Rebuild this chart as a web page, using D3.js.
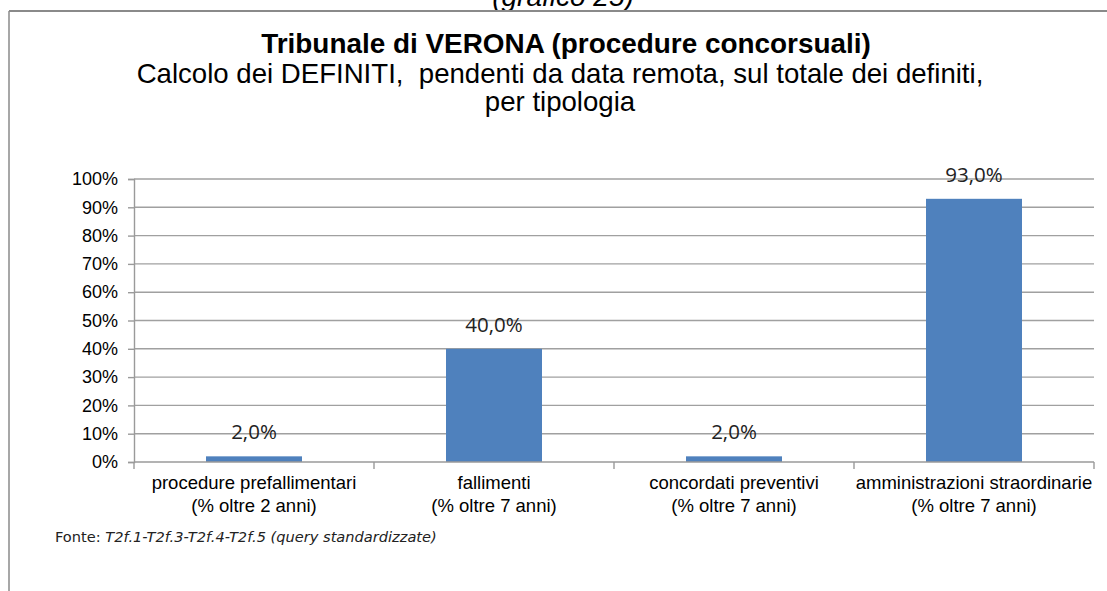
<!DOCTYPE html>
<html>
<head>
<meta charset="utf-8">
<script src="https://cdn.jsdelivr.net/npm/d3@7"></script>
<style>
  html, body { margin: 0; padding: 0; background: #fff; }
  svg { display: block; }
  .pre { white-space: pre; }
</style>
</head>
<body>
<svg id="chart"></svg>
<script>
// data
const categories = [
  "procedure prefallimentari|(% oltre 2 anni)",
  "fallimenti|(% oltre 7 anni)",
  "concordati preventivi|(% oltre 7 anni)",
  "amministrazioni straordinarie|(% oltre 7 anni)"
];
const values = [0.02, 0.40, 0.02, 0.93];
const yTicks = [0, 0.1, 0.2, 0.3, 0.4, 0.5, 0.6, 0.7, 0.8, 0.9, 1.0];

const topNote = "(grafico 25)";
const titleText = "Tribunale di VERONA (procedure concorsuali)";
const subtitleLines = [
  "Calcolo dei DEFINITI,  pendenti da data remota, sul totale dei definiti,",
  "per tipologia"
];
const sourceLabel = "Fonte: ";
const sourceText = "T2f.1-T2f.3-T2f.4-T2f.5 (query standardizzate)";

const width = 1107, height = 591;
const svg = d3.select("#chart")
    .attr("width", width)
    .attr("height", height);

const arial = "'Liberation Sans', Arial, sans-serif";
const itFmt = d3.formatLocale({decimal: ",", thousands: ".", grouping: [3], currency: ["", "€"]});
const pct0 = itFmt.format(".0%"),
    pct1 = itFmt.format(".1%");

// clipped note above the frame
svg.append("clipPath").attr("id", "topclip")
  .append("rect").attr("x", 0).attr("y", 0).attr("width", width).attr("height", 10);

svg.append("text")
    .attr("clip-path", "url(#topclip)")
    .attr("x", 563).attr("y", 6)
    .attr("text-anchor", "middle")
    .style("font-family", arial)
    .style("font-style", "italic")
    .style("font-size", "28px")
    .text(topNote);

// frame
svg.append("line")
    .attr("x1", 9).attr("x2", width).attr("y1", 11).attr("y2", 11)
    .attr("stroke", "#8a8a8a").attr("stroke-width", 2);
svg.append("line")
    .attr("x1", 9).attr("x2", 9).attr("y1", 11).attr("y2", height)
    .attr("stroke", "#8a8a8a").attr("stroke-width", 1.5);

// titles
svg.append("text")
    .attr("x", 566).attr("y", 53)
    .attr("text-anchor", "middle")
    .style("font-family", arial)
    .style("font-weight", "bold")
    .style("font-size", "27.9px")
    .text(titleText);

svg.selectAll("text.sub")
  .data(subtitleLines)
  .enter().append("text")
    .attr("class", "sub pre")
    .attr("x", 560)
    .attr("y", (d, i) => 83 + i * 28)
    .attr("text-anchor", "middle")
    .style("font-family", arial)
    .style("font-size", "27.6px")
    .text(d => d);

// scales
const x = d3.scaleBand()
    .domain(categories)
    .range([134, 1094])
    .paddingInner(0.6)
    .paddingOuter(0.3);

const y = d3.scaleLinear()
    .domain([0, 1])
    .range([462, 179]);

// gridlines
svg.append("g")
    .selectAll("line")
    .data(yTicks.slice(1))
    .enter().append("line")
    .attr("x1", 134).attr("x2", 1094)
    .attr("y1", d => y(d)).attr("y2", d => y(d))
    .attr("stroke", "#a0a0a0")
    .attr("stroke-width", 1.4);

// y axis
const yAxis = svg.append("g")
    .attr("transform", "translate(134,0)")
    .call(d3.axisLeft(y).tickValues(yTicks).tickFormat(pct0).tickSize(6).tickPadding(10));
yAxis.selectAll("path, line").attr("stroke", "#9a9a9a").attr("stroke-width", 1.4);
yAxis.selectAll("text")
    .style("font-family", arial)
    .style("font-size", "18px")
    .attr("fill", "#000");

// bars
svg.append("g")
    .selectAll("rect")
    .data(values)
    .enter().append("rect")
    .attr("x", (d, i) => x(categories[i]))
    .attr("width", x.bandwidth())
    .attr("y", d => y(d))
    .attr("height", d => y(0) - y(d))
    .attr("fill", "#4f81bd");

// x axis: line plus ticks on category boundaries
const xAxis = svg.append("g")
    .attr("transform", "translate(0," + y(0) + ")");
xAxis.append("line")
    .attr("x1", 134).attr("x2", 1094)
    .attr("stroke", "#9a9a9a").attr("stroke-width", 1.4);
const bounds = categories.map(c => x(c) - x.step() * x.paddingInner() / 2)
    .concat([x(categories[categories.length - 1]) + x.bandwidth() + x.step() * x.paddingInner() / 2]);
xAxis.selectAll("line.tk")
    .data(bounds)
    .enter().append("line")
    .attr("class", "tk")
    .attr("x1", d => d).attr("x2", d => d)
    .attr("y1", 0).attr("y2", 7)
    .attr("stroke", "#9a9a9a").attr("stroke-width", 1.4);

// category labels
const catLabels = svg.append("g")
    .selectAll("text")
    .data(categories)
    .enter().append("text")
    .attr("text-anchor", "middle")
    .style("font-family", arial)
    .style("font-size", "18.5px")
    .attr("fill", "#000");
catLabels.each(function(d) {
  const parts = d.split("|");
  const cx = x(d) + x.bandwidth() / 2;
  d3.select(this).selectAll("tspan")
    .data(parts)
    .enter().append("tspan")
    .attr("x", cx)
    .attr("y", (p, i) => 489 + i * 23)
    .text(p => p);
});

// value labels
svg.append("g")
    .selectAll("text")
    .data(values)
    .enter().append("text")
    .attr("x", (d, i) => x(categories[i]) + x.bandwidth() / 2)
    .attr("y", d => y(d) - 17)
    .attr("text-anchor", "middle")
    .style("font-family", "'Open Sans', sans-serif")
    .style("font-size", "20.5px")
    .attr("fill", "#222")
    .text(d => pct1(d));

// source note
const src = svg.append("text")
    .attr("x", 55).attr("y", 542)
    .style("font-family", "'DejaVu Sans', Verdana, sans-serif")
    .style("font-size", "14.6px")
    .attr("fill", "#222");
src.append("tspan").text(sourceLabel);
src.append("tspan").style("font-style", "italic").text(sourceText);
</script>
</body>
</html>
